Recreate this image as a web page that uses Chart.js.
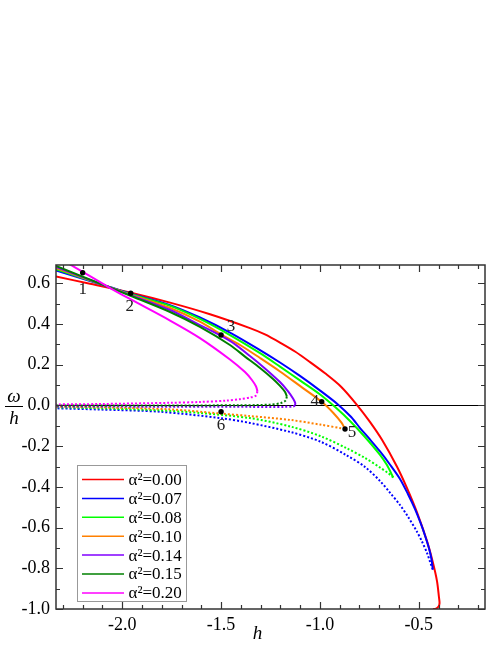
<!DOCTYPE html>
<html><head><meta charset="utf-8">
<script src="https://cdn.jsdelivr.net/npm/chart.js@4/dist/chart.umd.min.js"></script>
<style>html,body{margin:0;padding:0;background:#fff}canvas{display:block}</style>
</head><body>
<canvas id="c" width="498" height="645"></canvas>
<script>
// ---- axis ranges and ticks ----
const xMin = -2.335, xMax = -0.165, yMin = -1.0, yMax = 0.69;
const xTickValues = [-2.3,-2.2,-2.1,-2.0,-1.9,-1.8,-1.7,-1.6,-1.5,-1.4,-1.3,-1.2,-1.1,-1.0,-0.9,-0.8,-0.7,-0.6,-0.5,-0.4,-0.3,-0.2];
const xTickLabels = ['-2.0','-1.5','-1.0','-0.5'];
const yTickValues = [-1.0,-0.9,-0.8,-0.7,-0.6,-0.5,-0.4,-0.3,-0.2,-0.1,0.0,0.1,0.2,0.3,0.4,0.5,0.6];
const yTickLabels = ['-1.0','-0.8','-0.6','-0.4','-0.2','0.0','0.2','0.4','0.6'];

// ---- series (h, omega/h) ----
const curveLabels = ['α²=0.00','α²=0.07','α²=0.08','α²=0.10','α²=0.14','α²=0.15','α²=0.20'];

const red = [[-2.335,0.633],[-2.163,0.598],[-1.961,0.555],[-1.758,0.505],[-1.556,0.448],[-1.354,0.380],[-1.278,0.349],[-1.202,0.309],[-1.126,0.265],[-1.050,0.213],[-0.974,0.158],[-0.893,0.092],[-0.812,0.002],[-0.747,-0.081],[-0.686,-0.169],[-0.610,-0.301],[-0.560,-0.405],[-0.509,-0.525],[-0.458,-0.668],[-0.428,-0.774],[-0.408,-0.862],[-0.398,-0.941],[-0.395,-0.971],[-0.400,-0.988],[-0.413,-0.998],[-0.428,-1.001]];

const blue = [[-2.335,0.663],[-2.072,0.584],[-1.961,0.550],[-1.758,0.493],[-1.607,0.432],[-1.455,0.358],[-1.303,0.272],[-1.202,0.211],[-1.101,0.145],[-0.999,0.073],[-0.909,0.005],[-0.842,-0.057],[-0.797,-0.111],[-0.747,-0.167],[-0.696,-0.226],[-0.646,-0.290],[-0.595,-0.361],[-0.555,-0.435],[-0.519,-0.509],[-0.489,-0.582],[-0.466,-0.646],[-0.448,-0.703],[-0.436,-0.754],[-0.429,-0.806]];
const blueDot = [[-0.429,-0.806],[-0.441,-0.774],[-0.458,-0.725],[-0.484,-0.668],[-0.511,-0.617],[-0.555,-0.546],[-0.595,-0.489],[-0.646,-0.428],[-0.696,-0.371],[-0.772,-0.302],[-0.863,-0.246],[-0.999,-0.177],[-1.151,-0.130],[-1.354,-0.086],[-1.505,-0.062],[-1.809,-0.031],[-2.112,-0.020],[-2.335,-0.014]];

const green = [[-2.335,0.670],[-2.072,0.584],[-1.961,0.548],[-1.758,0.489],[-1.607,0.425],[-1.455,0.346],[-1.303,0.257],[-1.202,0.191],[-1.101,0.123],[-0.999,0.054],[-0.923,-0.008],[-0.848,-0.076],[-0.772,-0.155],[-0.696,-0.243],[-0.661,-0.293],[-0.629,-0.354]];
const greenDot = [[-0.629,-0.354],[-0.656,-0.332],[-0.696,-0.305],[-0.772,-0.258],[-0.863,-0.211],[-0.999,-0.150],[-1.151,-0.103],[-1.354,-0.062],[-1.607,-0.037],[-1.809,-0.024],[-2.112,-0.014],[-2.335,-0.009]];

const orange = [[-2.335,0.675],[-2.072,0.584],[-1.961,0.545],[-1.758,0.479],[-1.607,0.412],[-1.500,0.349],[-1.404,0.297],[-1.303,0.233],[-1.202,0.167],[-1.101,0.096],[-0.991,0.018],[-0.932,-0.037],[-0.890,-0.086],[-0.873,-0.116]];
const orangeDot = [[-0.873,-0.116],[-0.893,-0.112],[-0.999,-0.094],[-1.151,-0.071],[-1.354,-0.052],[-1.500,-0.040],[-1.758,-0.019],[-2.112,-0.009],[-2.335,-0.006]];

const purple = [[-2.335,0.680],[-2.072,0.583],[-1.961,0.543],[-1.758,0.469],[-1.607,0.395],[-1.455,0.317],[-1.354,0.243],[-1.278,0.182],[-1.202,0.115],[-1.161,0.069],[-1.136,0.034],[-1.125,0.012],[-1.126,0.000]];
const purpleDot = [[-1.126,0.000],[-1.136,-0.005],[-1.177,-0.007],[-1.354,-0.007],[-1.860,-0.006],[-2.335,-0.005]];

const dkgreen = [[-2.335,0.685],[-2.072,0.583],[-1.961,0.540],[-1.758,0.459],[-1.607,0.386],[-1.455,0.297],[-1.379,0.240],[-1.303,0.184],[-1.237,0.130],[-1.202,0.096],[-1.177,0.067],[-1.167,0.044]];
const dkgreenDot = [[-1.167,0.044],[-1.174,0.024],[-1.197,0.012],[-1.252,0.004],[-1.404,0.001],[-1.809,0.000],[-2.335,0.000]];

const magenta = [[-2.335,0.729],[-2.256,0.688],[-2.072,0.583],[-1.961,0.523],[-1.758,0.417],[-1.607,0.331],[-1.455,0.226],[-1.379,0.164],[-1.344,0.125],[-1.323,0.093],[-1.316,0.069]];
const magentaDot = [[-1.316,0.069],[-1.323,0.049],[-1.349,0.040],[-1.404,0.031],[-1.471,0.024],[-1.607,0.017],[-1.758,0.013],[-2.112,0.007],[-2.335,0.005]];

const markerPoints = [[-2.200,0.652],[-1.957,0.551],[-1.500,0.346],[-0.991,0.018],[-0.873,-0.116],[-1.500,-0.031]];
const markerLabels = ['1','2','3','4','5','6'];

// ---- styles ----
const curveColors = ['#ff0000','#0000ff','#00ff00','#ff8000','#8000ff','#008000','#ff00ff'];
const solidSeries = [red, blue, green, orange, purple, dkgreen, magenta];
const dottedSeries = [null, blueDot, greenDot, orangeDot, purpleDot, dkgreenDot, magentaDot];
const toXY = a => a.map(p => ({x: p[0], y: p[1]}));
const SERIF = '"Liberation Serif","Times New Roman",serif';

const datasets = [];
datasets.push({label:'zero', data:[{x:xMin,y:0},{x:xMax,y:0}], showLine:true, borderColor:'#000', borderWidth:1.1, pointRadius:0, order:40, clip:0});
solidSeries.forEach((s,i) => datasets.push({label:curveLabels[i], data:toXY(s), showLine:true, borderColor:curveColors[i], borderWidth:2, pointRadius:0, tension:0.3, order:20-i, clip:0}));
dottedSeries.forEach((s,i) => { if (s) datasets.push({label:curveLabels[i]+' unstable', data:toXY(s), showLine:true, borderColor:curveColors[i], borderWidth:2, borderDash:[2,2], pointRadius:0, tension:0.3, order:30-i, clip:0}); });
datasets.push({label:'points', data:toXY(markerPoints), showLine:false, pointRadius:2.7, pointBackgroundColor:'#000', pointBorderWidth:0, order:0, clip:false});

const fmt = v => (Math.abs(v) < 1e-9 ? 0 : v).toFixed(1);

const decor = {
  id:'decor',
  afterDraw(chart){
    const ctx = chart.ctx;
    const {left,right,top,bottom} = chart.chartArea;
    const xs = chart.scales.x, ys = chart.scales.y;
    ctx.save();
    // frame
    ctx.strokeStyle = '#333'; ctx.lineWidth = 1.5;
    ctx.strokeRect(left, top, right-left, bottom-top);
    // inward ticks on all four sides
    ctx.lineWidth = 1.2;
    ctx.beginPath();
    xs.ticks.forEach(t => {
      const major = xTickLabels.includes(fmt(t.value));
      const len = major ? 7 : 4;
      const p = Math.round(xs.getPixelForValue(t.value)) + 0.5;
      ctx.moveTo(p, bottom); ctx.lineTo(p, bottom - len);
      ctx.moveTo(p, top); ctx.lineTo(p, top + len);
    });
    ys.ticks.forEach(t => {
      const major = yTickLabels.includes(fmt(t.value));
      const len = major ? 7 : 4;
      const p = Math.round(ys.getPixelForValue(t.value)) + 0.5;
      ctx.moveTo(left, p); ctx.lineTo(left + len, p);
      ctx.moveTo(right, p); ctx.lineTo(right - len, p);
    });
    ctx.stroke();
    // marker labels
    const offs = [[0,17],[-1,13],[10,-8],[-7,0],[7,3],[0,14]];
    ctx.fillStyle = '#222'; ctx.font = '17px ' + SERIF;
    ctx.textAlign = 'center'; ctx.textBaseline = 'middle';
    markerPoints.forEach((p,i) => {
      const px = xs.getPixelForValue(p[0]), py = ys.getPixelForValue(p[1]);
      ctx.fillText(markerLabels[i], px + offs[i][0], py + offs[i][1]);
    });
    // legend
    const bx = left + 21.5, by = bottom - 143.5, bw = 109, bh = 136;
    ctx.fillStyle = '#fff'; ctx.fillRect(bx, by, bw, bh);
    ctx.strokeStyle = '#999'; ctx.lineWidth = 1; ctx.strokeRect(bx, by, bw, bh);
    ctx.font = '17px ' + SERIF; ctx.textAlign = 'left'; ctx.fillStyle = '#000';
    curveLabels.forEach((lab,i) => {
      const ry = by + 14 + i*18.9;
      ctx.strokeStyle = curveColors[i]; ctx.lineWidth = 1.5;
      ctx.beginPath(); ctx.moveTo(bx+4.5, ry); ctx.lineTo(bx+46.5, ry); ctx.stroke();
      ctx.fillText(lab, bx + 51, ry + 1);
    });
    // axis titles
    ctx.font = 'italic 19px ' + SERIF; ctx.textAlign = 'center'; ctx.fillStyle = '#000';
    ctx.fillText('ω', 14, 397);
    ctx.fillText('h', 14, 419);
    ctx.strokeStyle = '#000'; ctx.lineWidth = 1;
    ctx.beginPath(); ctx.moveTo(5, 406.5); ctx.lineTo(23, 406.5); ctx.stroke();
    ctx.fillText('h', 257.5, 634);
    ctx.restore();
  }
};

new Chart(document.getElementById('c'), {
  type:'scatter',
  data:{datasets},
  options:{
    responsive:false, animation:false, devicePixelRatio:1,
    layout:{padding:{top:265, right:13, left:0, bottom:0}},
    plugins:{legend:{display:false}, tooltip:{enabled:false}},
    scales:{
      x:{type:'linear', min:xMin, max:xMax,
         afterBuildTicks: s => { s.ticks = xTickValues.map(v => ({value:v})); },
         afterFit: s => { s.height = 36; },
         grid:{display:false, drawTicks:false}, border:{display:false},
         ticks:{autoSkip:false, maxRotation:0, minRotation:0, padding:5, color:'#000', font:{family:SERIF, size:18},
                callback: v => xTickLabels.includes(fmt(v)) ? fmt(v) : ''}},
      y:{type:'linear', min:yMin, max:yMax,
         afterBuildTicks: s => { s.ticks = yTickValues.map(v => ({value:v})); },
         afterFit: s => { s.width = 56; },
         grid:{display:false, drawTicks:false}, border:{display:false},
         ticks:{autoSkip:false, padding:6, color:'#000', font:{family:SERIF, size:18},
                callback: v => yTickLabels.includes(fmt(v)) ? fmt(v) : ''}}
    }
  },
  plugins:[decor]
});
</script>
</body></html>
